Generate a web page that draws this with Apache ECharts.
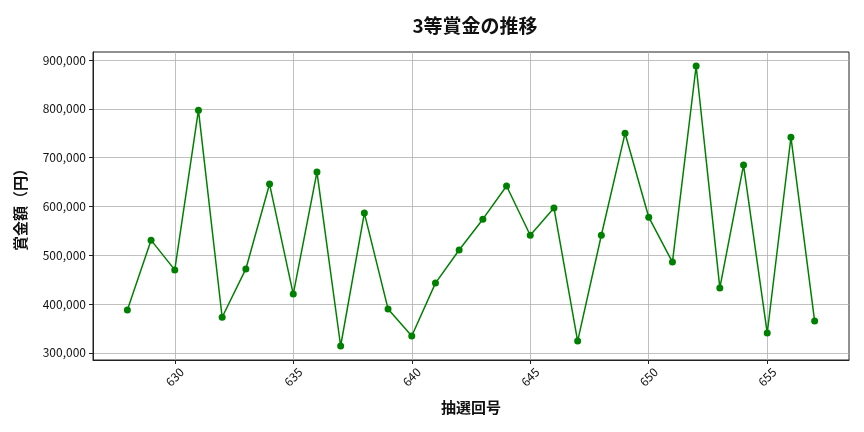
<!DOCTYPE html>
<html>
<head>
<meta charset="utf-8">
<script src="https://cdn.jsdelivr.net/npm/echarts@6/dist/echarts.min.js"></script>
<style>
html,body{margin:0;padding:0;background:#fff;}
#chart{width:864px;height:432px;}
</style>
</head>
<body>
<div id="chart"></div>
<script>
const draws = [628,629,630,631,632,633,634,635,636,637,638,639,640,641,642,643,644,645,646,647,648,649,650,651,652,653,654,655,656,657];
const prizes = [388000,531000,470000,797500,373000,472000,646000,420500,670500,314000,586500,390000,334500,443000,510700,574000,642000,541000,597000,324000,541000,750000,578000,486000,888000,433000,685000,340600,742000,365000];
const xTicks = [630,635,640,645,650,655];
const yTicks = [300000,400000,500000,600000,700000,800000,900000];

const font = '"Noto Sans CJK JP", "Noto Sans", sans-serif';
const chart = echarts.init(document.getElementById('chart'), null, {renderer:'canvas'});
chart.setOption({
  animation:false,
  backgroundColor:'#fff',
  title:{text:'3等賞金の推移', left:470, textAlign:'center', top:11,
    textStyle:{fontFamily:font, fontSize:19, fontWeight:'bold', color:'#111'}},
  grid:{left:93, right:15, top:52, bottom:72, show:true, borderColor:'#222', borderWidth:1},
  xAxis:{type:'value', min:626.55, max:658.45,
    name:'抽選回号', nameLocation:'middle', nameGap:40,
    nameTextStyle:{fontFamily:font, fontSize:15, fontWeight:'bold', color:'#111'},
    axisLine:{show:true, onZero:false, lineStyle:{color:'#222'}},
    axisTick:{show:true, length:4, customValues:xTicks, lineStyle:{color:'#222'}},
    axisLabel:{customValues:xTicks, rotate:45, align:'center', verticalAlign:'middle', margin:17,
      fontFamily:font, fontSize:12, color:'#111'},
    splitLine:{show:true, lineStyle:{color:'#b0b0b0', width:0.8}}},
  yAxis:{type:'value', min:285300, max:916700,
    name:'賞金額（円）', nameLocation:'middle', nameGap:65, nameRotate:90,
    nameTextStyle:{fontFamily:font, fontSize:15, fontWeight:'bold', color:'#111'},
    axisLine:{show:true, lineStyle:{color:'#222'}},
    axisTick:{show:true, length:4, customValues:yTicks, lineStyle:{color:'#222'}},
    axisLabel:{customValues:yTicks, margin:7, fontFamily:font, fontSize:12, color:'#111',
      formatter:v=>v.toLocaleString('en-US')},
    splitLine:{show:true, lineStyle:{color:'#b0b0b0', width:0.8}}},
  series:[{type:'line', data:draws.map((d,i)=>[d,prizes[i]]),
    symbol:'circle', symbolSize:7, itemStyle:{color:'#008000'},
    lineStyle:{color:'#008000', width:1.5}}]
});
</script>
</body>
</html>
